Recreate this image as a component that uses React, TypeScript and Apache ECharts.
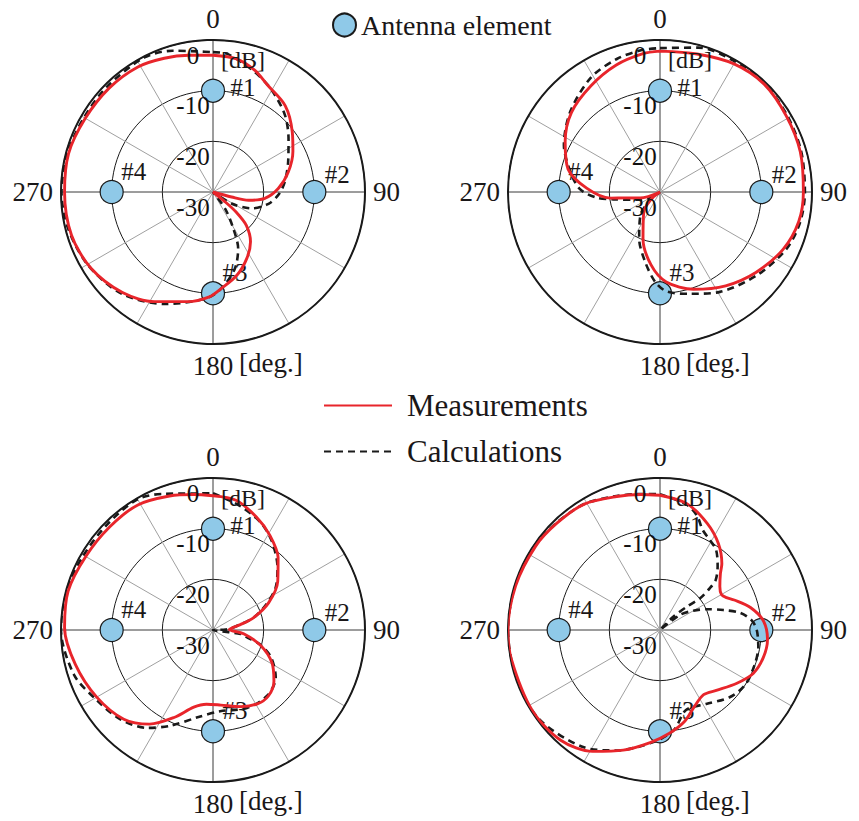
import React, { useEffect, useRef } from 'react';
import * as echarts from 'echarts';

const FONT = '"Liberation Serif", "Times New Roman", serif';
const TEXT = '#1a1718';
const RED = '#e8252b';
const BLUE = '#8fc9e8';

// axis ticks
const cardinalAngles = [0, 90, 180, 270];
const radiusTicks = [-30, -20, -10, 0];
const radiusMin = -30;
const radiusMax = 0;
const radiusStep = 10;
const angleStep = 30;

// antenna elements
const elementNames = ['#1', '#2', '#3', '#4'];
const elementAngles = [0, 90, 180, 270];
const elementLevel = -10;

// [angle deg, level dB], in drawing order
const measTL: number[][] = [[0,-3.0],[10,-3.3],[19,-4.6],[27,-6.3],[40,-7.8],[53,-10.4],[63,-12.3],[75,-14.6],[87,-17.1],[97,-19.7],[103,-22.8],[105,-26.2],[115,-30],[129,-27],[131,-23.9],[135,-20.7],[143,-17.7],[153,-15.3],[164,-12.9],[175,-10.9],[182,-9.3],[193,-7.8],[208,-5.5],[222,-3.3],[238,-1.6],[253,-0.8],[270,-0.7],[285,-0.5],[300,-0.9],[315,-1.0],[329,-1.2],[340,-1.9],[350,-2.6],[360,-3.0]];
const calcTL: number[][] = [[0,-2.4],[6,-2.6],[19,-4.9],[30,-6.8],[43,-9.2],[55,-11.8],[68,-14.0],[82,-15.7],[92,-17.0],[102,-18.8],[113,-21.7],[122,-25.7],[130,-30],[144,-25.9],[151,-21.7],[156,-17.8],[164,-14.3],[175,-10.9],[184,-8.9],[203,-6.0],[222,-3.0],[240,-1.4],[256,-0.5],[270,-0.1],[285,-0.3],[300,-0.6],[315,-0.5],[333,-0.2],[344,-1.0],[354,-2.1],[360,-2.4]];

const measTR: number[][] = [[0,-2.2],[15,-1.8],[30,-0.8],[44,-0.4],[59,-0.9],[74,-1.2],[90,-1.7],[102,-2.0],[115,-3.2],[130,-5.3],[145,-7.4],[161,-9.7],[176,-12.2],[187,-15.5],[200,-20.2],[219,-24.9],[232,-28.0],[245,-30],[253,-25.9],[260,-23.3],[263,-20.1],[273,-15.5],[284,-11.3],[298,-8.8],[312,-6.5],[327,-5.0],[341,-3.5],[353,-2.5],[360,-2.2]];
const calcTR: number[][] = [[0,-1.6],[15,-0.5],[29,-0.3],[44,-0.3],[59,-0.7],[74,-1.0],[90,-1.4],[102,-1.7],[114,-2.6],[130,-4.7],[149,-7.0],[164,-9.1],[176,-10.3],[183,-12.2],[192,-15.9],[204,-19.9],[220,-24.0],[230,-27.4],[235,-30],[240,-27.4],[250,-25.5],[261,-20.7],[265,-17.4],[272,-14.2],[283,-11.8],[296,-8.9],[312,-6.2],[329,-3.6],[342,-2.4],[352,-1.8],[360,-1.6]];

const measBL: number[][] = [[0,-3.5],[10,-4.0],[21,-6.1],[31,-8.2],[42,-10.8],[53,-14.0],[64,-17.8],[73,-21.6],[79,-24.5],[84,-26.3],[88,-26.8],[97,-23.9],[108,-20.1],[119,-16.7],[130,-14.3],[140,-13.0],[149,-13.0],[160,-13.9],[174,-15.1],[185,-15.3],[194,-14.3],[204,-11.1],[214,-7.6],[225,-5.1],[240,-3.5],[256,-2.0],[271,-0.7],[285,-0.4],[300,-1.0],[315,-1.2],[329,-1.2],[342,-2.2],[352,-3.0],[360,-3.5]];
const calcBL: number[][] = [[0,-3.0],[12,-4.9],[24,-6.8],[34,-9.1],[46,-12.3],[56,-15.1],[64,-18.2],[73,-21.6],[81,-25.5],[88,-27.5],[93,-30],[98,-24.5],[102,-23.2],[107,-20.3],[115,-17.4],[127,-14.5],[140,-13.2],[156,-13.2],[175,-13.9],[190,-12.5],[204,-9.3],[214,-6.7],[226,-4.6],[239,-3.2],[252,-1.2],[270,0],[285,0],[300,-0.5],[315,-0.5],[330,-0.2],[340,-1.4],[352,-2.8],[360,-3.0]];

const measBR: number[][] = [[0,-3.4],[12,-4.5],[24,-7.0],[34,-9.4],[43,-12.1],[47,-13.7],[54,-15.4],[60,-16.0],[64,-15.4],[68,-14.2],[76,-11.6],[85,-9.5],[95,-8.7],[105,-8.9],[115,-9.7],[125,-11.6],[137,-13.7],[146,-14.6],[156,-13.4],[165,-11.3],[175,-9.5],[185,-7.7],[197,-5.2],[209,-2.6],[222,-0.7],[238,-0.2],[259,-0.1],[270,0],[287,-0.2],[304,-0.4],[316,-0.7],[329,-1.0],[342,-2.3],[352,-3.0],[360,-3.4]];
const calcBR: number[][] = [[0,-3.2],[12,-4.7],[18,-6.3],[23,-8.5],[29,-9.7],[35,-10.7],[42,-13.0],[48,-15.2],[50,-17.2],[51.6,-19.9],[49,-23.0],[45,-26.3],[50,-30],[53,-25.0],[60,-22.4],[66,-19.9],[72.5,-16.9],[78,-13.8],[84,-11.8],[90,-10.9],[100,-10.3],[111,-10.1],[123,-10.0],[134,-10.9],[148,-12.8],[162,-13.4],[172,-10.1],[183,-7.9],[200,-4.7],[213,-2.4],[233,-0.4],[250,0],[270,0],[290,0],[305,-0.3],[316,-0.6],[329,-1.0],[342,-2.2],[352,-2.9],[360,-3.2]];

const plotData = [
  { meas: measTL, calc: calcTL },
  { meas: measTR, calc: calcTR },
  { meas: measBL, calc: calcBL },
  { meas: measBR, calc: calcBR },
];

const centers = [[213, 192], [660, 192], [213, 630], [660, 630]];
const RADIUS = 152;
const labelOffsets = [[30, -3], [23, -18], [22, -21], [22, -21]];

function toPolar(arr: number[][]) {
  return arr.map(([a, db]) => [Math.max(radiusMin, db), a]);
}

function buildOption() {
  const polar: any[] = [];
  const angleAxis: any[] = [];
  const radiusAxis: any[] = [];
  const series: any[] = [];
  const graphic: any[] = [];

  centers.forEach(([cx, cy], i) => {
    polar.push({ center: [cx, cy], radius: RADIUS });
    angleAxis.push({
      polarIndex: i,
      type: 'value',
      min: 0,
      max: 360,
      interval: angleStep,
      startAngle: 90,
      clockwise: true,
      axisLine: { show: true, lineStyle: { color: '#1a1a1a', width: 2 } },
      axisTick: { show: false },
      splitLine: { show: true, lineStyle: { color: ['#3a3a3a', '#a0a0a0', '#a0a0a0'], width: 1 } },
      axisLabel: {
        show: true,
        margin: 8,
        fontSize: 27,
        fontFamily: FONT,
        color: TEXT,
        formatter: (v: number) => (cardinalAngles.includes(v) ? String(v) : ''),
      },
    });
    radiusAxis.push({
      polarIndex: i,
      type: 'value',
      min: radiusMin,
      max: radiusMax,
      interval: radiusStep,
      axisLine: { show: false },
      axisTick: { show: false },
      splitLine: { show: true, lineStyle: { color: '#1a1a1a', width: 1 } },
      axisLabel: { show: false },
    });

    const d = plotData[i];
    // ring level labels, placed through the polar scale
    series.push({
      name: 'ring labels',
      type: 'scatter',
      coordinateSystem: 'polar',
      polarIndex: i,
      symbol: 'circle',
      symbolSize: 2,
      itemStyle: { color: 'rgba(0,0,0,0)', borderWidth: 0 },
      silent: true,
      z: 6,
      data: radiusTicks.map((v) => ({
        value: [v, 0],
        label: {
          show: true,
          position: 'inside',
          offset: [-20, 15],
          formatter: String(v),
          fontSize: 25,
          fontFamily: FONT,
          color: '#111',
          textBorderWidth: 0,
          opacity: 1,
        },
      })),
    });
    series.push({
      name: 'Antenna element',
      type: 'scatter',
      coordinateSystem: 'polar',
      polarIndex: i,
      symbol: 'circle',
      symbolSize: 23,
      itemStyle: { color: BLUE, borderColor: '#1a1a1a', borderWidth: 1.2, opacity: 1 },
      z: 2,
      data: elementAngles.map((a, k) => ({
        value: [elementLevel, a],
        label: {
          show: true,
          position: 'inside',
          offset: labelOffsets[k],
          formatter: elementNames[k],
          fontSize: 25,
          fontFamily: FONT,
          color: TEXT,
          textBorderWidth: 0,
        },
      })),
    });
    series.push({
      name: 'Calculations',
      type: 'line',
      coordinateSystem: 'polar',
      polarIndex: i,
      symbol: 'none',
      showSymbol: false,
      smooth: 0.3,
      lineStyle: { color: '#1a1a1a', width: 2.6, type: [7, 5] },
      itemStyle: { color: '#1a1a1a' },
      z: 3,
      data: toPolar(d.calc),
    });
    series.push({
      name: 'Measurements',
      type: 'line',
      coordinateSystem: 'polar',
      polarIndex: i,
      symbol: 'none',
      showSymbol: false,
      smooth: 0.3,
      lineStyle: { color: RED, width: 2.9 },
      itemStyle: { color: RED },
      z: 4,
      data: toPolar(d.meas),
    });

    graphic.push({
      type: 'text',
      x: cx + 8,
      y: cy - 132,
      style: { text: '[dB]', font: `24px ${FONT}`, fill: TEXT, textAlign: 'left', textVerticalAlign: 'middle' },
      z: 10,
    });
    graphic.push({
      type: 'text',
      x: cx + 26,
      y: cy + 171,
      style: { text: '[deg.]', font: `27px ${FONT}`, fill: TEXT, textAlign: 'left', textVerticalAlign: 'middle' },
      z: 10,
    });
  });

  return {
    animation: false,
    backgroundColor: '#ffffff',
    textStyle: { fontFamily: FONT, color: TEXT },
    polar,
    angleAxis,
    radiusAxis,
    series,
    graphic,
    legend: [
      {
        data: ['Antenna element'],
        left: 327,
        top: 6,
        icon: 'circle',
        itemWidth: 23,
        itemHeight: 23,
        selectedMode: false,
        textStyle: { fontSize: 28, fontFamily: FONT, color: TEXT },
      },
      {
        data: ['Measurements', 'Calculations'],
        orient: 'vertical',
        left: 318,
        top: 385,
        itemWidth: 68,
        itemHeight: 14,
        itemGap: 15,
        selectedMode: false,
        itemStyle: { opacity: 0 },
        textStyle: { fontSize: 31, fontFamily: FONT, color: TEXT, padding: [0, 0, 0, 10] },
      },
    ],
  };
}

export default function App() {
  const ref = useRef<HTMLDivElement>(null);
  useEffect(() => {
    document.body.style.margin = '0';
    if (!ref.current) return;
    const chart = echarts.init(ref.current, undefined, { renderer: 'svg' });
    chart.setOption(buildOption() as any);
    return () => chart.dispose();
  }, []);
  return <div ref={ref} style={{ width: 859, height: 821 }} />;
}
